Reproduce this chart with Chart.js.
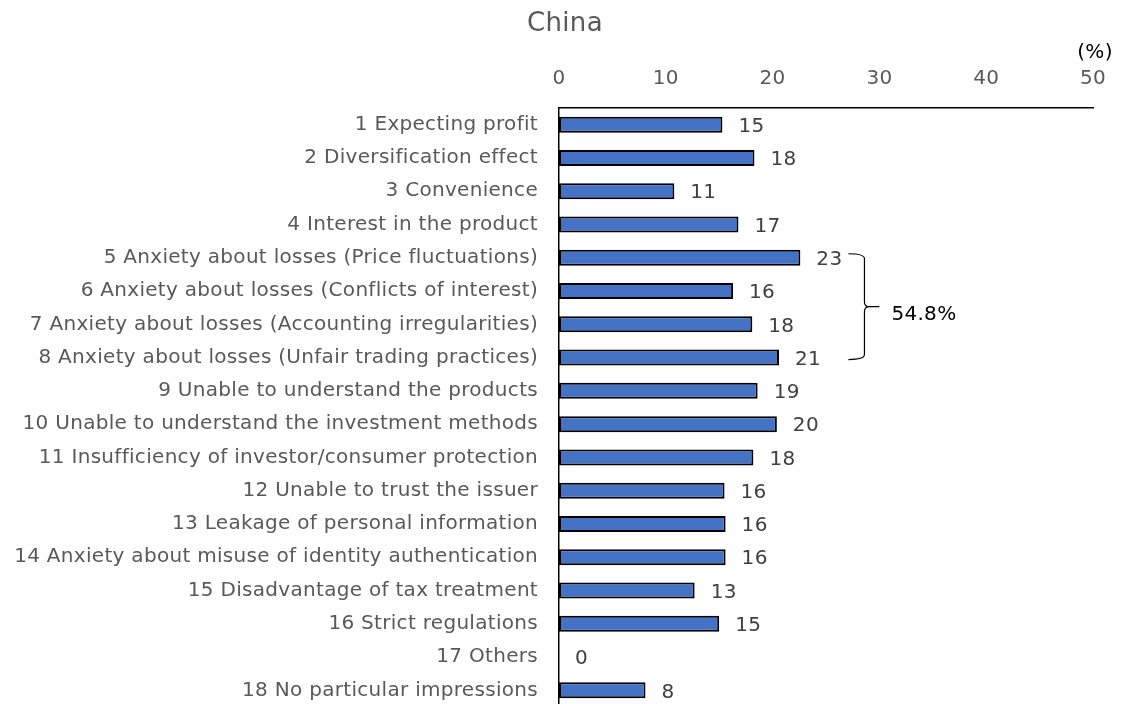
<!doctype html>
<html lang="en">
<head>
  <meta charset="utf-8">
  <title>China</title>
  <script src="https://cdn.jsdelivr.net/npm/chart.js"></script>
  <style>
    body { margin: 0; overflow: hidden; background: #fff; }
  </style>
</head>
<body>
  <canvas id="bar-chart" width="1121" height="707"></canvas>

<script>
var categories = [
  "1 Expecting profit",
  "2 Diversification effect",
  "3 Convenience",
  "4 Interest in the product",
  "5 Anxiety about losses (Price fluctuations)",
  "6 Anxiety about losses (Conflicts of interest)",
  "7 Anxiety about losses (Accounting irregularities)",
  "8 Anxiety about losses (Unfair trading practices)",
  "9 Unable to understand the products",
  "10 Unable to understand the investment methods",
  "11 Insufficiency of investor/consumer protection",
  "12 Unable to trust the issuer",
  "13 Leakage of personal information",
  "14 Anxiety about misuse of identity authentication",
  "15 Disadvantage of tax treatment",
  "16 Strict regulations",
  "17 Others",
  "18 No particular impressions"
];
// share of respondents, %
var shares = [15.3, 18.3, 10.8, 16.8, 22.6, 16.3, 18.1, 20.6, 18.6, 20.4, 18.2, 15.5, 15.6, 15.6, 12.7, 15.0, 0, 8.1];
var xTicks = [0, 10, 20, 30, 40, 50];
var lossGroup = { from: 4, to: 7, text: "54.8%" };

var FONT = "'DejaVu Sans', Verdana, sans-serif";

// slightly wider lettering for all canvas text
var spacing = {
  id: 'spacing',
  beforeInit: function(chart) { chart.ctx.letterSpacing = '0.3px'; },
  beforeDraw: function(chart) { chart.ctx.letterSpacing = '0.3px'; }
};

var extras = {
  id: 'extras',
  afterDatasetsDraw: function(chart) {
    var ctx = chart.ctx;
    var x = chart.scales.x, y = chart.scales.y;
    ctx.save();

    // title and unit
    ctx.fillStyle = '#595959';
    ctx.font = '26px ' + FONT;
    ctx.textAlign = 'center';
    ctx.textBaseline = 'middle';
    ctx.fillText('China', 565, 24);
    ctx.font = '20px ' + FONT;
    ctx.fillStyle = '#000';
    ctx.fillText('(%)', 1095, 53);

    // value labels
    ctx.fillStyle = '#404040';
    ctx.textAlign = 'left';
    ctx.font = '20px ' + FONT;
    for (var i = 0; i < shares.length; i++) {
      ctx.fillText(String(Math.round(shares[i])), x.getPixelForValue(shares[i]) + 16, y.getPixelForValue(i) + 2);
    }

    // brace around the "anxiety about losses" rows
    var top = y.getPixelForValue(lossGroup.from) - 4;
    var bot = y.getPixelForValue(lossGroup.to) + 2;
    var mid = (top + bot) / 2;
    var x0 = x.getPixelForValue(27.1), x1 = x.getPixelForValue(28.6), x2 = x.getPixelForValue(30.0);
    ctx.strokeStyle = '#000';
    ctx.lineWidth = 1.2;
    ctx.beginPath();
    ctx.moveTo(x0, top);
    ctx.quadraticCurveTo(x1, top, x1, top + 5);
    ctx.lineTo(x1, mid - 5);
    ctx.quadraticCurveTo(x1, mid, x1 + 5, mid);
    ctx.lineTo(x2, mid);
    ctx.moveTo(x1 + 5, mid);
    ctx.quadraticCurveTo(x1, mid, x1, mid + 5);
    ctx.lineTo(x1, bot - 5);
    ctx.quadraticCurveTo(x1, bot, x0, bot);
    ctx.stroke();

    ctx.fillStyle = '#000';
    ctx.font = '20px ' + FONT;
    ctx.fillText(lossGroup.text, x2 + 12, mid + 8);
    ctx.restore();
  }
};

new Chart(document.getElementById("bar-chart"), {
  type: 'bar',
  data: {
    labels: categories,
    datasets: [{
      data: shares,
      backgroundColor: '#4472C4',
      borderColor: '#000',
      borderWidth: 2,
      borderSkipped: false,
      barPercentage: 0.48,
      categoryPercentage: 1
    }]
  },
  options: {
    indexAxis: 'y',
    responsive: false,
    animation: false,
    devicePixelRatio: 1,
    layout: { padding: { top: 0, right: 28, bottom: 0, left: 0 } },
    plugins: {
      legend: { display: false },
      tooltip: { enabled: false }
    },
    scales: {
      x: {
        position: 'top',
        min: 0,
        max: 50,
        afterBuildTicks: function(s) { s.ticks = xTicks.map(function(v) { return { value: v }; }); },
        afterFit: function(s) { s.height = 108; s.paddingLeft = 0; s.paddingRight = 0; },
        grid: { display: false, drawTicks: false },
        border: { display: true, color: '#000', width: 1.5 },
        ticks: { color: '#595959', padding: 17, font: { family: FONT, size: 20 } }
      },
      y: {
        afterFit: function(s) { s.width = 559; s.paddingTop = 0; s.paddingBottom = 0; },
        grid: { display: false, drawTicks: false },
        border: { display: true, color: '#000', width: 1.5 },
        ticks: { color: '#595959', padding: 21, autoSkip: false, font: { family: FONT, size: 20 } }
      }
    }
  },
  plugins: [spacing, extras]
});
</script>
</body>
</html>
